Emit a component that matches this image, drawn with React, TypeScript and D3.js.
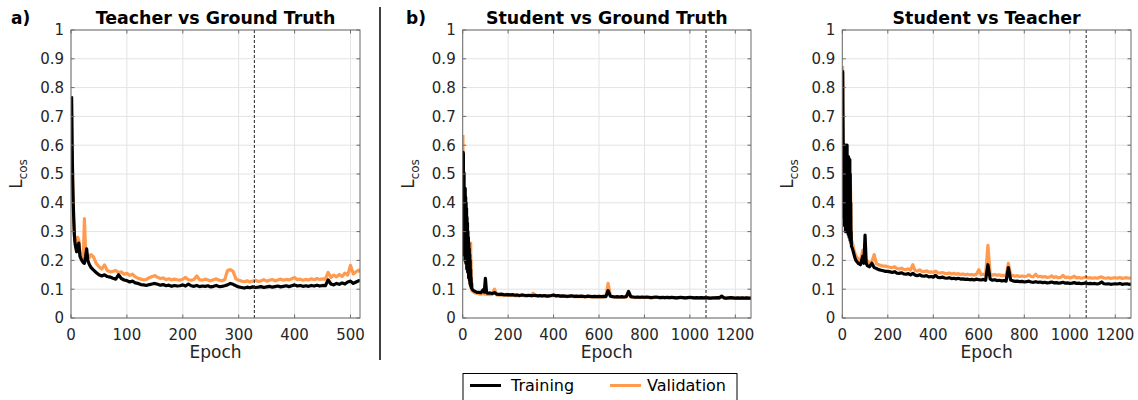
import React from "react";
import * as d3 from "d3";

// ---------- DATA ----------
const EPOCHS_A = [1,2,3,4,5,6,7,8,10,12,14,16,18,20,22,24,26,28,30,33,36,40,
45,50,55,60,65,70,75,80,85,90,95,100,
105,110,115,120,125,130,135,140,145,150,155,160,165,170,175,180,185,190,195,200,
205,210,215,220,225,230,235,240,245,250,255,260,265,270,275,280,285,290,295,300,
305,310,315,320,325,330,335,340,345,350,355,360,365,370,375,380,385,390,395,400,
405,410,415,420,425,430,435,440,445,450,455,460,465,470,475,480,485,490,495,500,
505,510,515,517];

const TRAIN_A = [0.77,0.60,0.48,0.40,0.34,0.29,0.265,0.25,0.23,0.245,0.26,0.215,0.205,0.198,0.192,0.19,0.212,0.24,0.2,0.185,0.175,0.167,
0.158,0.15,0.146,0.15,0.144,0.142,0.138,0.135,0.15,0.137,0.132,0.13,
0.125,0.128,0.122,0.12,0.116,0.115,0.113,0.116,0.118,0.12,0.117,0.114,0.116,0.112,0.114,0.11,0.113,0.111,0.112,0.115,
0.111,0.118,0.112,0.11,0.113,0.109,0.111,0.11,0.112,0.108,0.11,0.113,0.109,0.11,0.112,0.115,0.12,0.117,0.112,0.108,
0.106,0.104,0.107,0.105,0.108,0.106,0.107,0.109,0.106,0.108,0.11,0.107,0.109,0.111,0.108,0.11,0.112,0.109,0.112,0.115,
0.111,0.113,0.11,0.112,0.11,0.113,0.111,0.114,0.111,0.113,0.112,0.132,0.118,0.115,0.12,0.117,0.122,0.118,0.125,0.128,
0.12,0.125,0.13,0.127];

const VAL_A = [0.76,0.59,0.47,0.39,0.33,0.29,0.27,0.255,0.24,0.28,0.27,0.225,0.215,0.225,0.21,0.345,0.235,0.225,0.22,0.21,0.22,0.213,
0.19,0.178,0.17,0.184,0.165,0.16,0.162,0.165,0.158,0.16,0.152,0.155,
0.148,0.152,0.143,0.138,0.135,0.132,0.134,0.14,0.144,0.147,0.141,0.137,0.139,0.133,0.136,0.132,0.135,0.133,0.131,0.135,
0.141,0.133,0.131,0.134,0.146,0.133,0.131,0.135,0.132,0.129,0.133,0.136,0.131,0.129,0.133,0.165,0.168,0.162,0.136,0.131,
0.128,0.126,0.129,0.125,0.128,0.131,0.127,0.129,0.133,0.128,0.131,0.134,0.129,0.132,0.135,0.131,0.134,0.132,0.136,0.141,
0.133,0.135,0.131,0.134,0.132,0.136,0.133,0.137,0.134,0.136,0.135,0.158,0.141,0.149,0.143,0.151,0.144,0.156,0.149,0.183,
0.153,0.161,0.166,0.159];

const EPOCHS_BC = [1,2,3,4,5,6,7,8,9,10,11,12,13,14,15,16,17,18,19,20,
21,22,23,24,25,26,27,28,29,30,31,32,33,34,35,36,37,38,39,40,
45,50,55,60,70,80,90,95,100,105,110,120,130,140,150,160,170,180,190,200,
210,220,230,240,250,260,270,280,290,300,
310,320,330,340,350,360,370,380,390,400,
410,420,430,440,450,460,470,480,490,500,
510,520,530,540,550,560,570,580,590,600,
610,620,630,640,650,660,670,680,690,700,
710,720,730,740,750,760,770,780,790,800,
810,820,830,840,850,860,870,880,890,900,
910,920,930,940,950,960,970,980,990,1000,
1010,1020,1030,1040,1050,1060,1070,1080,1090,1100,
1110,1120,1130,1140,1150,1160,1170,1180,1190,1200,
1210,1220,1230,1240,1250,1260,1269];

const TRAIN_B = [0.30,0.575,0.57,0.22,0.505,0.5,0.28,0.45,0.44,0.2,0.45,0.3,0.42,0.19,0.4,0.25,0.38,0.17,0.35,0.2,
0.33,0.16,0.3,0.18,0.28,0.14,0.26,0.15,0.24,0.13,0.22,0.12,0.2,0.115,0.17,0.11,0.14,0.105,0.12,0.102,
0.097,0.094,0.092,0.09,0.089,0.088,0.098,0.09,0.138,0.088,0.086,0.087,0.085,0.088,0.083,0.082,0.083,0.081,0.08,0.081,
0.080,0.081,0.079,0.080,0.078,0.080,0.079,0.078,0.079,0.078,
0.078,0.079,0.077,0.078,0.077,0.078,0.076,0.077,0.078,0.080,
0.077,0.078,0.076,0.077,0.076,0.075,0.076,0.077,0.075,0.076,
0.075,0.076,0.075,0.074,0.076,0.075,0.074,0.075,0.074,0.075,
0.074,0.075,0.074,0.095,0.076,0.074,0.073,0.074,0.073,0.074,
0.073,0.074,0.092,0.074,0.073,0.072,0.073,0.072,0.073,0.072,
0.073,0.072,0.071,0.072,0.073,0.072,0.071,0.072,0.071,0.072,
0.071,0.072,0.071,0.070,0.071,0.072,0.071,0.070,0.071,0.072,
0.071,0.070,0.071,0.070,0.071,0.070,0.071,0.070,0.069,0.070,
0.070,0.071,0.070,0.076,0.070,0.069,0.070,0.071,0.070,0.069,
0.070,0.069,0.070,0.069,0.070,0.069,0.069];

const VAL_B = [0.635,0.22,0.5,0.3,0.45,0.24,0.4,0.3,0.36,0.22,0.35,0.25,0.3,0.2,0.32,0.22,0.3,0.18,0.28,0.2,
0.26,0.16,0.24,0.17,0.22,0.14,0.2,0.14,0.18,0.13,0.2,0.12,0.23,0.11,0.26,0.12,0.2,0.1,0.13,0.095,
0.092,0.089,0.087,0.086,0.084,0.083,0.085,0.083,0.09,0.082,0.083,0.081,0.082,0.1,0.08,0.079,0.08,0.078,0.083,0.079,
0.078,0.079,0.077,0.078,0.077,0.079,0.077,0.076,0.078,0.077,
0.086,0.077,0.076,0.077,0.076,0.077,0.075,0.076,0.077,0.078,
0.076,0.077,0.075,0.076,0.075,0.074,0.075,0.076,0.074,0.075,
0.074,0.075,0.074,0.073,0.075,0.074,0.073,0.074,0.073,0.074,
0.073,0.074,0.075,0.12,0.077,0.074,0.073,0.072,0.073,0.072,
0.072,0.073,0.085,0.073,0.072,0.071,0.072,0.071,0.072,0.071,
0.072,0.071,0.070,0.071,0.072,0.071,0.070,0.071,0.070,0.071,
0.070,0.071,0.070,0.069,0.070,0.071,0.070,0.069,0.070,0.071,
0.070,0.069,0.070,0.069,0.070,0.069,0.070,0.069,0.068,0.069,
0.069,0.070,0.069,0.072,0.069,0.068,0.069,0.070,0.069,0.068,
0.069,0.068,0.069,0.068,0.069,0.068,0.068];

const TRAIN_C = [0.86,0.85,0.7,0.6,0.6,0.35,0.6,0.42,0.595,0.32,0.6,0.38,0.59,0.3,0.6,0.4,0.59,0.3,0.58,0.35,
0.6,0.3,0.56,0.33,0.555,0.29,0.56,0.31,0.555,0.28,0.55,0.3,0.55,0.27,0.5,0.28,0.4,0.26,0.3,0.25,
0.24,0.225,0.21,0.2,0.19,0.185,0.215,0.19,0.288,0.19,0.182,0.178,0.19,0.175,0.172,0.168,0.166,0.164,0.162,0.162,
0.160,0.158,0.161,0.156,0.155,0.157,0.153,0.152,0.154,0.150,
0.155,0.149,0.147,0.150,0.146,0.145,0.147,0.143,0.144,0.142,
0.148,0.141,0.140,0.142,0.139,0.138,0.140,0.137,0.138,0.136,
0.138,0.135,0.136,0.134,0.135,0.133,0.134,0.132,0.135,0.133,
0.132,0.134,0.131,0.185,0.135,0.131,0.133,0.130,0.131,0.129,
0.130,0.128,0.175,0.132,0.129,0.127,0.128,0.126,0.127,0.125,
0.126,0.128,0.125,0.124,0.126,0.124,0.125,0.123,0.124,0.122,
0.123,0.125,0.122,0.123,0.121,0.122,0.124,0.121,0.122,0.120,
0.121,0.123,0.120,0.121,0.119,0.120,0.122,0.119,0.120,0.119,
0.120,0.118,0.120,0.125,0.119,0.118,0.119,0.117,0.118,0.119,
0.118,0.120,0.117,0.118,0.119,0.117,0.118];

const VAL_C = [0.875,0.58,0.6,0.59,0.45,0.58,0.4,0.57,0.36,0.56,0.34,0.55,0.33,0.55,0.32,0.54,0.31,0.53,0.3,0.52,
0.3,0.52,0.31,0.5,0.3,0.5,0.3,0.49,0.3,0.48,0.29,0.47,0.3,0.48,0.32,0.46,0.42,0.35,0.3,0.27,
0.26,0.24,0.225,0.215,0.205,0.2,0.235,0.205,0.22,0.2,0.198,0.19,0.195,0.22,0.188,0.185,0.182,0.18,0.18,0.178,
0.176,0.175,0.178,0.172,0.170,0.173,0.169,0.168,0.171,0.166,
0.185,0.165,0.163,0.167,0.162,0.161,0.164,0.159,0.160,0.158,
0.163,0.157,0.156,0.158,0.155,0.154,0.156,0.153,0.155,0.152,
0.154,0.151,0.153,0.150,0.152,0.150,0.151,0.149,0.152,0.168,
0.150,0.152,0.149,0.252,0.152,0.149,0.151,0.148,0.150,0.147,
0.148,0.146,0.190,0.150,0.147,0.145,0.147,0.144,0.146,0.144,
0.145,0.150,0.144,0.143,0.152,0.143,0.145,0.142,0.144,0.141,
0.142,0.146,0.141,0.143,0.140,0.141,0.148,0.140,0.142,0.139,
0.141,0.145,0.139,0.141,0.138,0.140,0.142,0.139,0.140,0.138,
0.140,0.138,0.141,0.143,0.139,0.138,0.140,0.137,0.139,0.140,
0.138,0.141,0.137,0.139,0.140,0.138,0.139];

const Y_TICKS = [0,0.1,0.2,0.3,0.4,0.5,0.6,0.7,0.8,0.9,1];
const X_TICKS_A = [0,100,200,300,400,500];
const X_TICKS_BC = [0,200,400,600,800,1000,1200];
const TITLES = ["Teacher vs Ground Truth", "Student vs Ground Truth", "Student vs Teacher"];
const BEST_EPOCH = [328, 1071, 1072];
const X_MAX = [517, 1269, 1269];
const LEGEND = ["Training", "Validation"];

// ---------- STYLE ----------
const FONT = "DejaVu Sans";
const ORANGE = "#FF9A4E";
const TXT = "#262626";
const TOP = 30, BOTTOM = 318;

type PanelProps = {
  id: number; left: number; right: number; xmax: number; xticks: number[];
  epochs: number[]; train: number[]; val: number[]; best: number; title: string;
};

function Panel(p: PanelProps) {
  const x = d3.scaleLinear().domain([0, p.xmax]).range([p.left, p.right]);
  const y = d3.scaleLinear().domain([0, 1]).range([BOTTOM, TOP]);
  const line = d3.line<number>().x((_, i) => x(p.epochs[i])).y((d) => y(d));
  const cx = (p.left + p.right) / 2;
  const tl = 3.5;
  const clipId = `clip${p.id}`;
  return (
    <g>
      <defs>
        <clipPath id={clipId}>
          <rect x={p.left} y={TOP} width={p.right - p.left} height={BOTTOM - TOP} />
        </clipPath>
      </defs>
      {Y_TICKS.map((t) => (
        <line key={"gy" + t} x1={p.left} x2={p.right} y1={y(t)} y2={y(t)} stroke="#e3e3e3" strokeWidth={1} />
      ))}
      {p.xticks.map((t) => (
        <line key={"gx" + t} x1={x(t)} x2={x(t)} y1={TOP} y2={BOTTOM} stroke="#e3e3e3" strokeWidth={1} />
      ))}
      <g clipPath={`url(#${clipId})`}>
        <path d={line(p.val) || ""} fill="none" stroke={ORANGE} strokeWidth={3.2} strokeLinejoin="round" />
        <path d={line(p.train) || ""} fill="none" stroke="#000" strokeWidth={3.2} strokeLinejoin="round" />
      </g>
      <line x1={x(p.best)} x2={x(p.best)} y1={TOP} y2={BOTTOM} stroke="#222" strokeWidth={1} strokeDasharray="3,2" />
      <rect x={p.left} y={TOP} width={p.right - p.left} height={BOTTOM - TOP} fill="none" stroke="#6b6b6b" strokeWidth={1} />
      {Y_TICKS.map((t) => (
        <g key={"ty" + t}>
          <line x1={p.left} x2={p.left + tl} y1={y(t)} y2={y(t)} stroke="#6b6b6b" />
          <line x1={p.right} x2={p.right - tl} y1={y(t)} y2={y(t)} stroke="#6b6b6b" />
          <text x={p.left - 7} y={y(t)} dy="0.36em" textAnchor="end" fontFamily={FONT} fontSize={15} fill={TXT}>
            {String(t)}
          </text>
        </g>
      ))}
      {p.xticks.map((t) => (
        <g key={"tx" + t}>
          <line x1={x(t)} x2={x(t)} y1={BOTTOM} y2={BOTTOM - tl} stroke="#6b6b6b" />
          <line x1={x(t)} x2={x(t)} y1={TOP} y2={TOP + tl} stroke="#6b6b6b" />
          <text x={x(t)} y={339.5} textAnchor="middle" fontFamily={FONT} fontSize={15} fill={TXT}>
            {String(t)}
          </text>
        </g>
      ))}
      <text x={cx} y={24} textAnchor="middle" fontFamily={FONT} fontWeight="bold" fontSize={17.4} fill="#000">
        {p.title}
      </text>
      <text x={cx} y={358} textAnchor="middle" fontFamily={FONT} fontSize={17} fill={TXT}>
        Epoch
      </text>
      <text transform={`translate(${p.left - 49},${(TOP + BOTTOM) / 2}) rotate(-90)`} textAnchor="middle" fontFamily={FONT} fill={TXT}>
        <tspan fontSize={17}>L</tspan>
        <tspan fontSize={12} dy={5}>cos</tspan>
      </text>
    </g>
  );
}

export default function App() {
  const panels: PanelProps[] = [
    { id: 0, left: 71, right: 360, xmax: X_MAX[0], xticks: X_TICKS_A, epochs: EPOCHS_A, train: TRAIN_A, val: VAL_A, best: BEST_EPOCH[0], title: TITLES[0] },
    { id: 1, left: 462.7, right: 751, xmax: X_MAX[1], xticks: X_TICKS_BC, epochs: EPOCHS_BC, train: TRAIN_B, val: VAL_B, best: BEST_EPOCH[1], title: TITLES[1] },
    { id: 2, left: 842.3, right: 1131, xmax: X_MAX[2], xticks: X_TICKS_BC, epochs: EPOCHS_BC, train: TRAIN_C, val: VAL_C, best: BEST_EPOCH[2], title: TITLES[2] },
  ];
  return (
    <svg width={1138} height={400} viewBox="0 0 1138 400" style={{ position: "absolute", left: 0, top: 0, background: "#fff" }}>
      <rect x={0} y={0} width={1138} height={400} fill="#fff" />
      {panels.map((p) => <Panel key={p.id} {...p} />)}
      <text x={11} y={24} fontFamily={FONT} fontWeight="bold" fontSize={17} fill="#000">a)</text>
      <text x={406} y={24} fontFamily={FONT} fontWeight="bold" fontSize={17} fill="#000">b)</text>
      <line x1={380} x2={380} y1={7} y2={360} stroke="#000" strokeWidth={1.5} />
      <g>
        <rect x={463} y={373.5} width={274} height={32} fill="#fff" stroke="#000" strokeWidth={1} />
        <line x1={470} x2={501} y1={385.5} y2={385.5} stroke="#000" strokeWidth={3} />
        <text x={511} y={391} fontFamily={FONT} fontSize={16} fill="#000">{LEGEND[0]}</text>
        <line x1={610} x2={641} y1={385.5} y2={385.5} stroke={ORANGE} strokeWidth={3} />
        <text x={647} y={391} fontFamily={FONT} fontSize={16} fill="#000">{LEGEND[1]}</text>
      </g>
    </svg>
  );
}
